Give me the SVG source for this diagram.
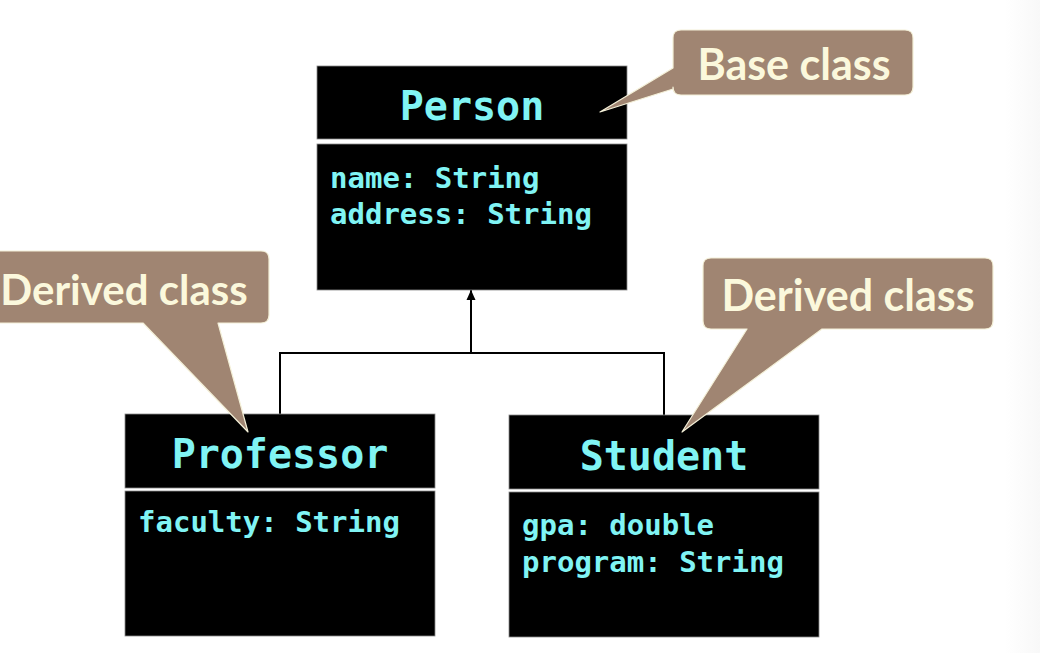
<svg xmlns="http://www.w3.org/2000/svg" width="1040" height="653" viewBox="0 0 1040 653">
<defs>
<linearGradient id="edge" x1="0" y1="0" x2="1" y2="0">
<stop offset="0" stop-color="#ffffff"/>
<stop offset="1" stop-color="#f8f8f8"/>
</linearGradient>
<marker id="arrow" markerWidth="10" markerHeight="10" refX="10" refY="5" orient="auto" markerUnits="userSpaceOnUse" viewBox="0 0 10 10">
<path d="M0,0.5 L10,5 L0,9.5 Z" fill="#000"/>
</marker>
</defs>
<style>
.box{fill:#000;stroke:#8a8a8a;stroke-width:0.8}
.title{font-family:"DejaVu Sans Mono","Liberation Mono",monospace;font-weight:bold;font-size:40px;fill:#80f4f4;text-anchor:middle}
.attr{font-family:"DejaVu Sans Mono","Liberation Mono",monospace;font-weight:bold;font-size:29px;fill:#80f4f4}
.callout{fill:#a08572;stroke:#f4f0d8;stroke-width:1.2;stroke-linejoin:round}
.ctext{font-family:Lato,"Open Sans","Liberation Sans",sans-serif;font-weight:bold;font-size:43px;fill:#fbf8dc;text-anchor:middle}
.conn{fill:none;stroke:#000;stroke-width:2}
</style>
<rect x="0" y="0" width="1040" height="653" fill="#ffffff"/>
<rect x="1005" y="0" width="35" height="653" fill="url(#edge)"/>

<g id="connectors">
<path class="conn" d="M280,414 V353 H664 V415"/>
<path class="conn" d="M471,353 V290" marker-end="url(#arrow)"/>
</g>

<g id="person">
<rect class="box" x="317" y="66" width="310" height="73"/>
<rect class="box" x="317" y="144" width="310" height="146"/>
<text class="title" x="472" y="120">Person</text>
<text class="attr" x="330" y="188">name: String</text>
<text class="attr" x="330" y="224">address: String</text>
</g>

<g id="professor">
<rect class="box" x="125" y="414" width="310" height="74"/>
<rect class="box" x="125" y="491" width="310" height="145"/>
<text class="title" x="280" y="468">Professor</text>
<text class="attr" x="138" y="532">faculty: String</text>
</g>

<g id="student">
<rect class="box" x="509" y="415" width="310" height="74"/>
<rect class="box" x="509" y="492" width="310" height="145"/>
<text class="title" x="664" y="470">Student</text>
<text class="attr" x="522" y="535">gpa: double</text>
<text class="attr" x="522" y="572">program: String</text>
</g>

<g id="callout-base">
<path class="callout" d="M681,30 H905 Q913,30 913,38 V87 Q913,95 905,95 H681 Q673,95 673,87 V89 L600,112 L673,68 V38 Q673,30 681,30 Z"/>
<text class="ctext" x="794" y="80">Base class</text>
</g>

<g id="callout-derived-left">
<path class="callout" d="M-10,251 H261 Q269,251 269,259 V315 Q269,323 261,323 H218 L248,432 L143,323 H-10 Z"/>
<text class="ctext" x="124" y="305" style="font-size:42px">Derived class</text>
</g>

<g id="callout-derived-right">
<path class="callout" d="M711,258 H985 Q993,258 993,266 V321 Q993,329 985,329 H822 L682,432 L747,329 H711 Q703,329 703,321 V266 Q703,258 711,258 Z"/>
<text class="ctext" x="848" y="311">Derived class</text>
</g>
</svg>
